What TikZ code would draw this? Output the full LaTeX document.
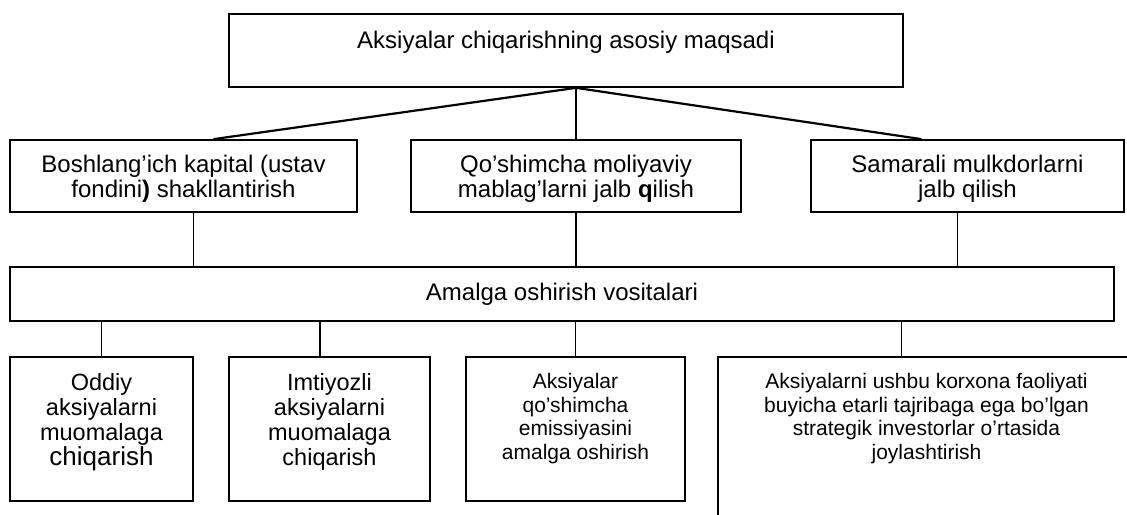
\documentclass[tikz,border=0pt]{standalone}
\usepackage{fontspec}
\setmainfont{Liberation Sans}

\begin{document}
\begin{tikzpicture}[x=1pt, y=-1pt,
  box/.style={draw, line width=1.7pt, inner sep=0pt},
  wide/.style={font=\fontsize{24}{24.5}\selectfont},
  mid text/.style={font=\fontsize{24}{24.8}\selectfont, align=center,
    anchor=north, yshift=-15.5pt, inner sep=0pt},
  low text/.style={font=\fontsize{21}{23.5}\selectfont, align=center,
    anchor=north, yshift=-17pt, inner sep=0pt},
  big low text/.style={low text, font=\fontsize{23.5}{25}\selectfont},
  link/.style={line width=1.6pt},
  slant/.style={line width=2.2pt}]

\clip (0,0) rectangle (1127,514);

% Asosiy maqsad
\node[box, wide, minimum width=674pt, minimum height=73pt,
  text height=34.5pt, text depth=38.5pt] (goal) at (566,50.5)
  {Aksiyalar chiqarishning asosiy maqsadi};

% Ikkinchi qator
\node[box, minimum width=347pt, minimum height=72pt,
  label={[mid text]north:{Boshlang’ich kapital (ustav\\fondini\textbf{)} shakllantirish}}]
  (start) at (183.5,176) {};
\node[box, minimum width=330pt, minimum height=72pt,
  label={[mid text]north:{Qo’shimcha moliyaviy\\mablag’larni jalb \textbf{q}ilish}}]
  (extra) at (576,176) {};
\node[box, minimum width=313pt, minimum height=72pt,
  label={[mid text]north:{Samarali mulkdorlarni\\jalb qilish}}]
  (owners) at (967.5,176) {};

\coordinate (split) at (goal.south -| extra.north);
\draw[slant] (split) -- ([xshift=30pt]start.north);
\draw[link] (split) -- (extra.north);
\draw[slant] (split) -- ([xshift=-46pt]owners.north);

% Vositalar
\node[box, wide, minimum width=1104pt, minimum height=54pt] (means) at (562,294)
  {Amalga oshirish vositalari};

\draw[link] ([xshift=10pt]start.south) -- ([xshift=10pt]start.south |- means.north);
\draw[link] (extra.south) -- (extra.south |- means.north);
\draw[link] ([xshift=-10pt]owners.south) -- ([xshift=-10pt]owners.south |- means.north);

% Pastki qator
\node[box, minimum width=183pt, minimum height=144pt,
  label={[big low text, yshift=-0.5pt]north:{Oddiy\\aksiyalarni\\muomalaga\\{\fontsize{26}{25}\selectfont chiqarish}}}]
  (plain) at (101.5,429) {};
\node[box, minimum width=201pt, minimum height=144pt,
  label={[big low text, yshift=-0.5pt]north:{Imtiyozli\\aksiyalarni\\muomalaga\\chiqarish}}]
  (pref) at (329.5,429) {};
\node[box, minimum width=219pt, minimum height=144pt,
  label={[low text]north:{Aksiyalar\\qo’shimcha\\emissiyasini\\amalga oshirish}}]
  (issue) at (575.5,429) {};
\node[box, minimum width=417pt, minimum height=200pt,
  label={[low text]north:{Aksiyalarni ushbu korxona faoliyati\\buyicha etarli tajribaga ega bo’lgan\\strategik investorlar o’rtasida\\joylashtirish}}]
  (invest) at (926.5,457) {};

\draw[link] (means.south -| plain.north) -- (plain.north);
\draw[link] ([xshift=-9.5pt]pref.north |- means.south) -- ([xshift=-9.5pt]pref.north);
\draw[link] (means.south -| issue.north) -- (issue.north);
\draw[link] ([xshift=-25pt]invest.north |- means.south) -- ([xshift=-25pt]invest.north);

\end{tikzpicture}
\end{document}
